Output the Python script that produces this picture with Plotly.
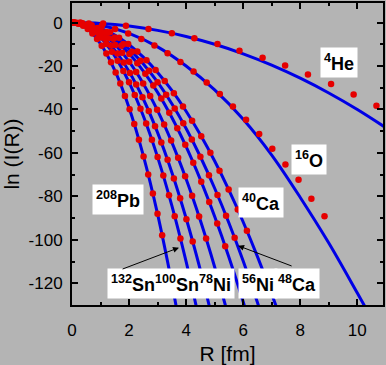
import plotly.graph_objects as go

# ---------------- data ----------------
# 4He
he4_pts_r = [0.29, 1.09, 1.89, 2.68, 3.50, 4.29, 5.10, 5.87, 6.68, 7.47, 8.27, 9.08, 9.87, 10.67]
he4_pts_ln = [-0.03, -0.48, -1.5, -3.0, -4.9, -7.2, -9.9, -13.0, -16.2, -19.8, -23.9, -28.3, -33.1, -38.3]
he4_fit_r = [0, 1, 2, 3, 4, 5, 6, 7, 8, 9, 10, 11]
he4_fit_ln = [0, -0.4, -1.6, -3.6, -6.4, -10.0, -14.4, -19.6, -25.6, -32.4, -40.0, -48.4]

# 16O
o16_pts_r = [0.13, 0.59, 1.05, 1.51, 1.97, 2.43, 2.89, 3.35, 3.80, 4.26, 4.72, 5.18, 5.64, 6.10, 6.56, 7.02, 7.48, 7.94, 8.39, 8.85]
o16_pts_ln = [-0.02, -0.44, -1.38, -3.0, -5.0, -7.6, -10.6, -14.1, -18.2, -22.5, -27.6, -32.9, -38.6, -44.7, -51.3, -58.1, -65.3, -72.3, -81.1, -89.2]
o16_fit_r = [0, 1, 2, 3, 4, 5, 6, 7, 8, 9, 10, 10.6]
o16_fit_ln = [0, -1.25, -5.0, -11.2, -20.0, -31.0, -44.5, -61.0, -80.5, -101.5, -124.5, -138.5]

# 40Ca
ca40_pts_r = [0.05, 0.37, 0.69, 1.01, 1.33, 1.65, 1.97, 2.29, 2.61, 2.93, 3.25, 3.57, 3.89, 4.21, 4.53, 4.85, 5.17, 5.49, 5.81, 6.13]
ca40_pts_ln = [-0.01, -0.35, -1.21, -2.60, -4.51, -6.94, -9.90, -13.37, -17.37, -21.89, -26.93, -32.50, -38.59, -45.20, -52.33, -59.98, -68.16, -76.86, -86.08, -95.82]
ca40_fit_r = [0, 0.5, 1, 1.5, 2, 2.5, 3, 3.5, 4, 4.5, 5, 5.5, 6, 6.5, 7, 7.5]
ca40_fit_ln = [0, -0.64, -2.55, -5.74, -10.2, -15.94, -22.95, -31.24, -40.8, -51.64, -63.75, -77.14, -91.8, -107.74, -124.95, -143.44]

# 48Ca
ca48_pts_r = [0.0, 0.3, 0.6, 0.9, 1.2, 1.5, 1.8, 2.1, 2.4, 2.7, 3.0, 3.3, 3.6, 3.9, 4.2, 4.5, 4.8, 5.1, 5.4, 5.7]
ca48_pts_ln = [0.0, -0.27, -1.10, -2.47, -4.39, -6.86, -9.88, -13.45, -17.57, -22.23, -27.45, -33.21, -39.53, -46.39, -53.80, -61.76, -70.27, -79.33, -88.94, -99.09]
ca48_fit_r = [0, 0.5, 1, 1.5, 2, 2.5, 3, 3.5, 4, 4.5, 5, 5.5, 6, 6.5, 7]
ca48_fit_ln = [0, -0.76, -3.05, -6.86, -12.2, -19.06, -27.45, -37.36, -48.8, -61.76, -76.25, -92.26, -109.8, -128.86, -149.45]

# 56Ni
ni56_pts_r = [0.05, 0.33, 0.61, 0.89, 1.17, 1.45, 1.73, 2.01, 2.29, 2.57, 2.85, 3.13, 3.41, 3.69, 3.97, 4.25, 4.53, 4.81, 5.09, 5.37]
ni56_pts_ln = [-0.01, -0.39, -1.33, -2.83, -4.89, -7.51, -10.68, -14.42, -18.72, -23.58, -29.00, -34.98, -41.51, -48.61, -56.27, -64.48, -73.26, -82.60, -92.49, -102.95]
ni56_fit_r = [0, 0.5, 1, 1.5, 2, 2.5, 3, 3.5, 4, 4.5, 5, 5.5, 6, 6.5]
ni56_fit_ln = [0, -0.89, -3.57, -8.03, -14.28, -22.31, -32.13, -43.73, -57.12, -72.29, -89.25, -107.99, -128.52, -150.83]

# 78Ni
ni78_pts_r = [0.045, 0.29, 0.535, 0.78, 1.025, 1.27, 1.515, 1.76, 2.005, 2.25, 2.495, 2.74, 2.985, 3.23, 3.475, 3.72, 3.965, 4.21, 4.455, 4.70]
ni78_pts_ln = [-0.01, -0.38, -1.29, -2.74, -4.73, -7.26, -10.33, -13.94, -18.09, -22.78, -28.01, -33.78, -40.10, -46.95, -54.34, -62.27, -70.75, -79.76, -89.31, -99.41]
ni78_fit_r = [0, 0.5, 1, 1.5, 2, 2.5, 3, 3.5, 4, 4.5, 5, 5.5]
ni78_fit_ln = [0, -1.125, -4.5, -10.125, -18.0, -28.125, -40.5, -55.125, -72.0, -91.125, -112.5, -136.125]

# 100Sn
sn100_pts_r = [0.05, 0.27, 0.49, 0.71, 0.93, 1.15, 1.37, 1.59, 1.81, 2.03, 2.25, 2.47, 2.69, 2.91, 3.13, 3.35, 3.57, 3.79, 4.01, 4.23]
sn100_pts_ln = [-0.01, -0.41, -1.35, -2.84, -4.87, -7.45, -10.57, -14.23, -18.44, -23.20, -28.50, -34.35, -40.74, -47.68, -55.16, -63.18, -71.75, -80.87, -90.53, -100.74]
sn100_fit_r = [0, 0.5, 1, 1.5, 2, 2.5, 3, 3.5, 4, 4.5, 5]
sn100_fit_ln = [0, -1.41, -5.63, -12.67, -22.52, -35.19, -50.67, -68.97, -90.08, -114.0, -140.75]

# 132Sn
sn132_pts_r = [0.0, 0.2, 0.4, 0.6, 0.8, 1.0, 1.2, 1.4, 1.6, 1.8, 2.0, 2.2, 2.4, 2.6, 2.8, 3.0, 3.2, 3.4, 3.6, 3.8]
sn132_pts_ln = [0.0, -0.28, -1.10, -2.48, -4.40, -6.88, -9.91, -13.48, -17.61, -22.29, -27.52, -33.30, -39.63, -46.51, -53.94, -61.92, -70.45, -79.53, -89.16, -99.35]
sn132_fit_r = [0, 0.5, 1, 1.5, 2, 2.5, 3, 3.5, 4, 4.5]
sn132_fit_ln = [0, -1.72, -6.88, -15.48, -27.52, -43.0, -61.92, -84.28, -110.08, -139.32]

# 208Pb
pb208_pts_r = [0.063, 0.226, 0.389, 0.552, 0.715, 0.878, 1.041, 1.204, 1.367, 1.530, 1.693, 1.856, 2.019, 2.182, 2.345, 2.508, 2.671, 2.834, 2.997, 3.160]
pb208_pts_ln = [-0.04, -0.50, -1.48, -2.99, -5.01, -7.55, -10.62, -14.21, -18.31, -22.94, -28.09, -33.76, -39.95, -46.66, -53.89, -61.64, -69.92, -78.71, -88.02, -97.86]
pb208_fit_r = [0, 0.5, 1.0, 1.5, 2.0, 2.5, 3.0, 3.5, 3.8]
pb208_fit_ln = [0, -2.45, -9.8, -22.05, -39.2, -61.25, -88.2, -120.05, -141.5]

x_tick_vals = [0, 2, 4, 6, 8, 10]
x_tick_text = ["0", "2", "4", "6", "8", "10"]
y_tick_vals = [-120, -100, -80, -60, -40, -20, 0]
y_tick_text = ["-120", "-100", "-80", "-60", "-40", "-20", "0"]

# ---------------- styling ----------------
BG = "#b4b4b4"
BLUE = "#0000e6"
RED = "#e60000"
FONT = "Arial, 'Liberation Sans', sans-serif"

fits = [
    (he4_fit_r, he4_fit_ln), (o16_fit_r, o16_fit_ln), (ca40_fit_r, ca40_fit_ln),
    (ca48_fit_r, ca48_fit_ln), (ni56_fit_r, ni56_fit_ln), (ni78_fit_r, ni78_fit_ln),
    (sn100_fit_r, sn100_fit_ln), (sn132_fit_r, sn132_fit_ln), (pb208_fit_r, pb208_fit_ln),
]
pts = [
    (he4_pts_r, he4_pts_ln), (o16_pts_r, o16_pts_ln), (ca40_pts_r, ca40_pts_ln),
    (ca48_pts_r, ca48_pts_ln), (ni56_pts_r, ni56_pts_ln), (ni78_pts_r, ni78_pts_ln),
    (sn100_pts_r, sn100_pts_ln), (sn132_pts_r, sn132_pts_ln), (pb208_pts_r, pb208_pts_ln),
]

fig = go.Figure()
for r, ln in fits:
    fig.add_trace(go.Scatter(x=r, y=ln, mode="lines",
                             line=dict(color=BLUE, width=3, shape="spline"),
                             showlegend=False, hoverinfo="skip"))
for r, ln in pts:
    fig.add_trace(go.Scatter(x=r, y=ln, mode="markers",
                             marker=dict(color=RED, size=6.5, symbol="circle", line=dict(width=0)),
                             showlegend=False))

label_font = dict(family=FONT, size=18, color="black")
labels = [
    (9.37, -18.5, "<b><sup>4</sup>He</b>"),
    (8.32, -63.1, "<b><sup>16</sup>O</b>"),
    (6.63, -82.9, "<b><sup>40</sup>Ca</b>"),
    (1.60, -81.5, "<b><sup>208</sup>Pb</b>"),
    (3.47, -120.1, "<b><sup>132</sup>Sn<sup>100</sup>Sn<sup>78</sup>Ni</b>"),
    (6.53, -120.1, "<b><sup>56</sup>Ni</b>"),
    (7.89, -120.1, "<b><sup>48</sup>Ca</b>"),
]
annotations = []
for lx, ly, t in labels:
    annotations.append(dict(x=lx, y=ly, xref="x", yref="y", text=t, showarrow=False,
                            bgcolor="white", borderpad=3, font=label_font))
arrows = [
    (3.75, -103.6, 1.72, -113.7),
    (5.82, -102.7, 7.75, -112.3),
]
for hx, hy, tx, ty in arrows:
    annotations.append(dict(x=hx, y=hy, ax=tx, ay=ty, xref="x", yref="y", axref="x", ayref="y",
                            text="", showarrow=True, arrowhead=2, arrowsize=1.2,
                            arrowwidth=1, arrowcolor="black"))

axis_common = dict(
    showline=True, linewidth=2, linecolor="black", mirror="ticks",
    ticks="inside", ticklen=6, tickwidth=2, tickcolor="black",
    showgrid=False, zeroline=False, automargin=False,
    tickfont=dict(family=FONT, size=17, color="black"),
)

fig.update_layout(
    width=386, height=365,
    margin=dict(l=72, r=3, t=3, b=60),
    paper_bgcolor=BG, plot_bgcolor=BG,
    font=dict(family=FONT, color="black"),
    annotations=annotations,
    xaxis=dict(range=[0, 10.9], tickvals=x_tick_vals, ticktext=x_tick_text,
               minor=dict(ticks="inside", ticklen=3, tickwidth=2, dtick=1, tick0=0, tickcolor="black"),
               ticklabelstandoff=9,
               title=dict(text="R [fm]", font=dict(family=FONT, size=21, color="black"), standoff=8),
               **axis_common),
    yaxis=dict(range=[-130, 9], tickvals=y_tick_vals, ticktext=y_tick_text,
               minor=dict(ticks="inside", ticklen=3, tickwidth=2, dtick=10, tick0=0, tickcolor="black"),
               ticklabelstandoff=4,
               title=dict(text="ln (I(R))", font=dict(family=FONT, size=21, color="black"), standoff=6),
               **axis_common),
)

fig.write_html("out.html", config={"displayModeBar": False},
               post_script="document.body.style.margin='0';")
